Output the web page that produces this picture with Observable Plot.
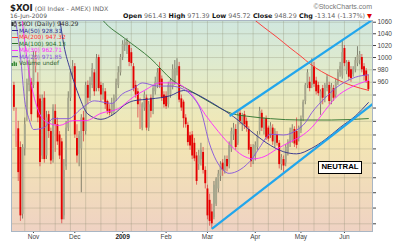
<!DOCTYPE html>
<html><head><meta charset="utf-8">
<script src="https://cdn.jsdelivr.net/npm/d3@7"></script>
<script src="https://cdn.jsdelivr.net/npm/@observablehq/plot@0.6"></script>
<style>
 body{margin:0;width:400px;height:243px;overflow:hidden;background:#fff;}
 #chart{position:absolute;left:0;top:0;width:400px;height:243px;}
 #legend{position:absolute;left:11px;top:21px;font:5.8px 'DejaVu Sans';line-height:6.5px;}
 #legend .lr{height:6.5px;white-space:nowrap;}
 #legend .sw{display:inline-block;width:6px;height:0;border-top:1px solid;vertical-align:middle;margin:0 1px 0 1px;}
 #neutral{position:absolute;left:318px;top:161px;width:44px;height:13px;box-sizing:border-box;border:1.5px solid #000;background:#fff;font:bold 7.8px 'Liberation Sans';color:#000;text-align:center;line-height:10px;}
</style></head><body>
<div id="chart"></div>
<div id="legend"></div>
<div id="neutral"></div>
<script>
// ---------- data ----------
const symbol = "$XOI";
const symbolName = "(Oil Index - AMEX) INDX";
const credit = "\u00A9StockCharts.com";
const lastDate = "16-Jun-2009";
const lastOpen = 961.43, lastHigh = 971.39, lastLow = 945.72, lastClose = 948.29;
const change = -13.14, changePct = -1.37;
const signalLabel = "NEUTRAL";

const opens = [955,870,889,862,772,860,909,955,960,955,
 985,960,934,850,935,850,910,885,845,915,
 895,880,870,770,835,890,935,975,985,875,
 852,860,905,885,955,935,955,975,950,1000,
 955,940,945,930,918,912,915,935,955,975,
 1000,1020,1020,1020,1008,985,955,945,915,890,
 920,935,890,935,915,945,955,982,965,940,
 938,925,940,952,960,975,985,934,929,905,
 894,879,880,868,850,838,845,855,830,805,
 790,775,768,785,805,822,840,830,845,838,
 860,880,888,868,912,895,910,900,888,862,
 845,850,862,885,912,888,904,890,880,890,
 867,880,868,838,845,840,855,868,872,888,
 885,875,886,905,930,955,960,955,985,962,
 955,925,950,935,950,955,930,950,940,960,
 975,970,1015,978,992,980,972,980,990,995,
 1000,985,978,961.43];
const highs = [960,920,900,870,866,905,965,995,966,1010,
 1010,975,940,940,945,915,915,890,925,925,
 905,885,875,845,900,945,980,995,990,895,
 885,910,915,960,962,968,990,980,1005,1004,
 960,958,950,932,925,935,940,965,985,1005,
 1028,1030,1032,1025,1015,990,962,950,935,928,
 945,940,930,940,955,968,982,992,970,945,
 945,960,965,988,995,998,992,940,932,910,
 898,884,885,875,855,858,868,862,835,810,
 798,785,815,820,830,842,845,850,850,870,
 890,897,895,916,918,912,915,905,892,866,
 866,870,885,921,917,905,908,893,898,895,
 889,885,872,852,850,866,873,890,895,892,
 905,893,908,932,958,980,968,998,992,968,
 960,948,955,958,972,960,958,955,965,980,
 992,1027,1020,995,995,985,985,1000,1018,1010,
 1005,990,982,971.39];
const lows = [915,862,815,763,766,850,900,945,900,950,
 975,898,835,845,840,845,875,838,840,855,
 865,845,760,765,830,885,930,965,875,840,
 835,800,870,880,925,930,950,938,945,945,
 930,932,918,910,908,908,910,930,950,970,
 995,1010,1005,985,985,945,935,905,888,886,
 915,886,885,905,910,940,950,950,930,920,
 918,920,935,948,955,970,928,915,890,890,
 864,858,845,842,810,830,836,825,805,765,
 757,754,765,782,800,815,822,825,828,832,
 855,872,858,865,895,885,888,884,852,834,
 838,843,858,880,885,880,872,870,875,865,
 862,864,832,830,825,835,850,862,868,862,
 860,870,882,900,925,950,945,950,952,940,
 938,909,925,928,945,925,925,930,935,955,
 968,965,985,972,962,960,968,975,985,988,
 975,962,958,945.72];
const closes = [921,915,827,770,862,895,958,982,910,1003,
 1000,905,841,930,845,905,885,843,920,895,
 870,850,765,830,890,935,975,985,880,850,
 880,905,885,955,935,960,982,945,998,950,
 940,950,925,915,912,925,935,960,975,1000,
 1022,1025,1028,992,990,950,940,925,922,926,
 940,890,925,915,950,960,975,955,935,925,
 922,955,962,980,982,985,932,920,904,895,
 869,864,850,846,815,850,858,830,812,770,
 763,760,810,818,825,838,830,845,835,865,
 885,890,862,908,900,908,895,890,858,842,
 860,865,880,915,890,902,876,874,893,870,
 885,868,838,848,836,862,870,885,890,867,
 865,890,904,929,955,975,950,985,957,945,
 942,945,935,955,968,930,952,935,960,975,
 985,1008,990,992,968,966,981,995,1003,1005,
 980,970,961.43,948.29];

// moving averages: [bar index, value]
const ma50 = [[17,1110],[21,1066],[23,1020],[26,979],[30,938],[34,911],[40,903],[46,911],[51,925],[55,931],[63,934],[72,939],[78,947],[82,944],[88,934],[94,922],[101,907],[110,883],[118,865],[124,856],[130,853],[137,861],[143,873],[150,891],[157,908],[163,928.31]];
const ma200 = [[105,1080],[110,1066],[115,1051],[121,1034],[127,1016],[132,1002],[136,990],[147,967],[156,954],[163,947.32]];
const ma100 = [[36,1090],[41,1063],[51,1032],[63,998],[73,963],[82,945],[90,929],[100,912],[109,907],[118,904],[132,902],[146,902],[163,904.13]];
const ma30 = [[3,1090],[7,975],[11,918],[15,899],[21,894],[27,901],[33,901],[40,912],[48,919],[55,937],[61,949],[67,959],[73,959],[78,953],[82,940],[88,910],[94,885],[100,864],[105,851],[110,846],[115,849],[121,860],[127,870],[132,878],[137,891],[143,916],[148,936],[155,952],[163,962.71]];
const ma20 = [[0,1080],[3,1003],[5,931],[7,903],[9,888],[14,891],[18,904],[25,904],[31,919],[37,931],[45,927],[50,942],[55,950],[59,959],[66,954],[72,954],[78,949],[82,938],[86,916],[90,867],[96,831],[99,826],[104,831],[110,848],[113,862],[118,881],[124,880],[130,887],[134,898],[137,913],[143,935],[148,951],[152,960],[157,968],[163,971.85]];

// hand-drawn channel lines: [bar index, value]
const upperTrend = [[99.6,908.7],[164,1062]];
const lowerTrend = [[91.3,754.2],[164.9,926]];

const monthIdx = [9,28,50,70,89,111,132,152];
const monthLabels = ["Nov","Dec","2009","Feb","Mar","Apr","May","Jun"];
const gridIdx = [5,12,19,26,33,40,47,54,61,68,75,82,89,96,103,110,117,124,131,138,145,152,159];
const yTicks = [760,780,800,820,840,860,880,900,920,940,960,980,1000,1020,1040,1060];

const legendItems = [
  {label:"MA(50) 928.31", color:"#2a2a8c"},
  {label:"MA(200) 947.32", color:"#ff3030"},
  {label:"MA(100) 904.13", color:"#2a702a"},
  {label:"MA(30) 962.71", color:"#ff28ff"},
  {label:"MA(20) 971.85", color:"#8452dc"}
];
const mainLegend = "$XOI (Daily) 948.29";
const volumeLegend = "Volume undef";

// ---------- legend ----------
const lg = document.getElementById("legend");
lg.innerHTML =
  `<div class="lr" style="font-size:6.2px;color:#333"><svg width="6" height="6" style="vertical-align:middle;margin-right:1px"><rect x="0.5" y="1" width="2" height="4" fill="#333"/><line x1="4" x2="4" y1="0" y2="6" stroke="#333"/><rect x="3" y="2" width="2" height="2.5" fill="#fff" stroke="#333" stroke-width="0.6"/></svg>${mainLegend}</div>` +
  legendItems.map(d => `<div class="lr" style="color:${d.color}"><span class="sw" style="border-color:${d.color}"></span>${d.label}</div>`).join("") +
  `<div class="lr" style="color:#2a602a"><svg width="7" height="5" style="vertical-align:middle;margin-right:1px"><rect x="0.5" y="2" width="1.5" height="3" fill="#3a8a3a"/><rect x="2.5" y="0.5" width="1.5" height="4.5" fill="#3a8a3a"/><rect x="4.5" y="1.5" width="1.5" height="3.5" fill="#3a8a3a"/></svg>${volumeLegend}</div>`;
document.getElementById("neutral").textContent = signalLabel;

// ---------- chart ----------
const candles = opens.map((o, k) => {
  const c = closes[k], prev = k > 0 ? closes[k-1] : o;
  const down = c < prev, filled = c < o;
  return {
    i: k, o, h: highs[k], l: lows[k], c,
    body: down ? (filled ? "#e40000" : "#f29a9a") : (filled ? "#5a5a4e" : "#a7a78e"),
    wick: down ? "#dd4444" : "#6a6a58"
  };
});

const W = 400, H = 243, mL = 11, mR = 28, mT = 20, mB = 12;
const maLine = (data, color, w) => Plot.line(data, {x: d => d[0], y: d => d[1], stroke: color, strokeWidth: w, curve: "monotone-x", clip: true});

const svg = Plot.plot({
  width: W, height: H,
  marginLeft: mL, marginRight: mR, marginTop: mT, marginBottom: mB,
  style: {background: "transparent", fontFamily: "'Liberation Sans', Arial, sans-serif", fontSize: "6.5px", color: "#444"},
  x: {type: "linear", domain: [-1.1, 164.9], ticks: monthIdx, tickFormat: d => monthLabels[monthIdx.indexOf(d)], tickSize: 2, tickPadding: 1, label: null},
  y: {type: "log", domain: [750.4, 1063], ticks: yTicks, tickFormat: d => String(d), axis: "right", tickSize: 3, tickPadding: 2, label: null},
  marks: [
    Plot.ruleY(yTicks, {stroke: "#8c8c70", strokeOpacity: 0.3}),
    Plot.ruleX(gridIdx, {stroke: "#8c8c70", strokeOpacity: 0.3}),
    Plot.ruleX(candles, {x: "i", y1: "l", y2: "h", stroke: "wick", strokeWidth: 0.8}),
    Plot.ruleX(candles, {x: "i", y1: "o", y2: "c", stroke: "body", strokeWidth: 1.9}),
    maLine(ma100, legendItems[2].color, 0.9),
    maLine(ma200, legendItems[1].color, 0.9),
    maLine(ma50, legendItems[0].color, 0.9),
    maLine(ma30, legendItems[3].color, 0.9),
    maLine(ma20, legendItems[4].color, 0.9),
    Plot.line(upperTrend, {x: d => d[0], y: d => d[1], stroke: "#22a6ec", strokeWidth: 2.2, clip: true}),
    Plot.line(lowerTrend, {x: d => d[0], y: d => d[1], stroke: "#22a6ec", strokeWidth: 2.2, clip: true}),
    Plot.frame({stroke: "#a9b6c4"})
  ]
});

// gradient plot background
const s = d3.select(svg);
s.insert("rect", ":first-child")
  .attr("x", mL).attr("y", mT).attr("width", W - mL - mR).attr("height", H - mT - mB)
  .attr("fill", "url(#bgg)");
const grad = s.insert("defs", ":first-child").append("linearGradient")
  .attr("id", "bgg").attr("x1", 0).attr("x2", 0).attr("y1", 0).attr("y2", 1);
[["0%","#d0e7df"],["30%","#e5ebc6"],["55%","#f3e7b3"],["80%","#f1dbbb"],["100%","#efd2c3"]]
  .forEach(([o, c]) => grad.append("stop").attr("offset", o).attr("stop-color", c));
s.selectAll("text").filter(function(){ return this.textContent === "2009"; }).attr("font-weight", "bold").attr("fill", "#222");

// header texts (in the top margin)
const hdr = s.append("g").attr("font-family", "'DejaVu Sans', sans-serif");
const t1 = hdr.append("text").attr("x", 10).attr("y", 10.5).attr("text-anchor", "start");
t1.append("tspan").attr("font-weight", "bold").attr("font-size", 8.6).attr("fill", "#222").text(symbol);
t1.append("tspan").attr("dx", 2).attr("font-size", 6.2).attr("fill", "#666").text(symbolName);
hdr.append("text").attr("x", W - mR).attr("y", 9).attr("text-anchor", "end")
  .attr("font-family", "'Liberation Sans', sans-serif").attr("font-size", 7).attr("fill", "#777").text(credit);
hdr.append("text").attr("x", 10).attr("y", 17.6).attr("text-anchor", "start").attr("font-size", 6).attr("fill", "#555").text(lastDate);
const t2 = hdr.append("text").attr("x", W - mR).attr("y", 17.6).attr("text-anchor", "end").attr("font-size", 6.4).attr("fill", "#666");
const parts = [["Open", lastOpen.toFixed(2)], ["High", lastHigh.toFixed(2)], ["Low", lastLow.toFixed(2)], ["Close", lastClose.toFixed(2)], ["Chg", `${change.toFixed(2)} (${changePct.toFixed(2)}%)`]];
parts.forEach(([k, v], j) => {
  t2.append("tspan").attr("font-weight", "bold").attr("fill", "#111").text((j ? " " : "") + k);
  t2.append("tspan").text(" " + v);
});
t2.append("tspan").attr("fill", "#d00").text(" \u25BC");

document.getElementById("chart").appendChild(svg);
</script>
</body></html>
